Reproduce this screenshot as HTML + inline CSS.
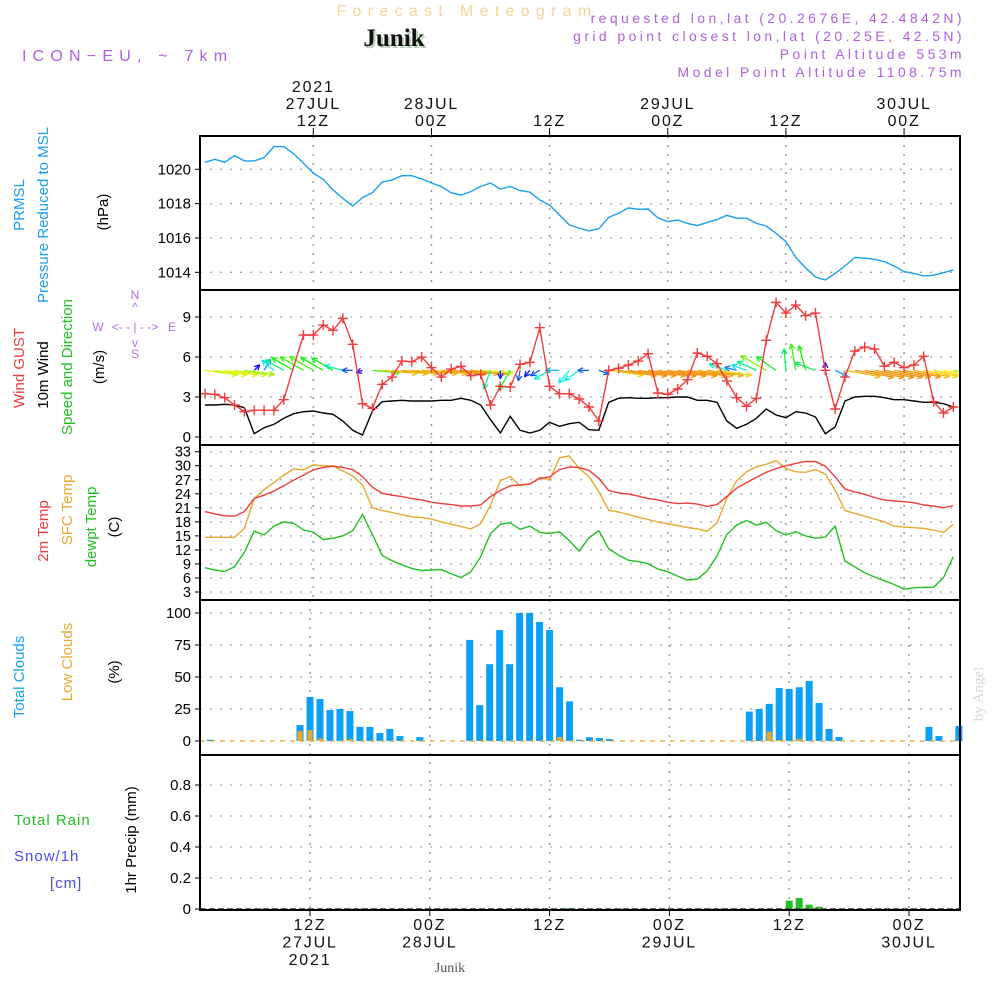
<!DOCTYPE html>
<html><head><meta charset="utf-8">
<style>
html,body{margin:0;padding:0;background:#fff;}
svg{display:block;font-family:"Liberation Sans",sans-serif;}
</style></head>
<body>
<svg id="chart" width="1000" height="1000" viewBox="0 0 1000 1000">
  <defs>
    <clipPath id="windClip"><rect x="200" y="290" width="760" height="155"/></clipPath>
  </defs>
  <!-- header -->
  <text x="467" y="16" text-anchor="middle" font-size="16" fill="#f3d49a" letter-spacing="6.3">Forecast Meteogram</text>
  <text x="396" y="48" text-anchor="middle" font-size="25" font-weight="bold" font-family="Liberation Serif, serif" fill="#b8d0b8">Junik</text>
  <text x="394" y="46" text-anchor="middle" font-size="25" font-weight="bold" font-family="Liberation Serif, serif" fill="#111">Junik</text>
  <text x="22" y="61" font-size="16" fill="#b060e0" letter-spacing="6.2">ICON−EU, ~ 7km</text>
  <g font-size="14" fill="#b060e0" text-anchor="end" letter-spacing="3.4">
    <text x="965" y="23">requested lon,lat (20.2676E, 42.4842N)</text>
    <text x="965" y="41">grid point closest lon,lat (20.25E, 42.5N)</text>
    <text x="965" y="59">Point Altitude 553m</text>
    <text x="965" y="77">Model Point Altitude 1108.75m</text>
  </g>

  <!-- left axis titles -->
  <g font-size="15">
    <text transform="translate(24,205) rotate(-90)" text-anchor="middle" fill="#1aa0f0">PRMSL</text>
    <text transform="translate(48,215) rotate(-90)" text-anchor="middle" fill="#1aa0f0">Pressure Reduced to MSL</text>
    <text transform="translate(108,212) rotate(-90)" text-anchor="middle" fill="#000">(hPa)</text>

    <text transform="translate(24,368) rotate(-90)" text-anchor="middle" fill="#f03c3c">Wind GUST</text>
    <text transform="translate(48,375) rotate(-90)" text-anchor="middle" fill="#000">10m Wind</text>
    <text transform="translate(72,367) rotate(-90)" text-anchor="middle" fill="#22c022">Speed and Direction</text>
    <text transform="translate(104,367) rotate(-90)" text-anchor="middle" fill="#000">(m/s)</text>

    <text transform="translate(48,531) rotate(-90)" text-anchor="middle" fill="#f03c3c">2m Temp</text>
    <text transform="translate(72,510) rotate(-90)" text-anchor="middle" fill="#e8a830">SFC Temp</text>
    <text transform="translate(96,527) rotate(-90)" text-anchor="middle" fill="#22c022">dewpt Temp</text>
    <text transform="translate(119,527) rotate(-90)" text-anchor="middle" fill="#000">(C)</text>

    <text transform="translate(24,677) rotate(-90)" text-anchor="middle" fill="#1aa0f0">Total Clouds</text>
    <text transform="translate(72,662) rotate(-90)" text-anchor="middle" fill="#e8a830">Low Clouds</text>
    <text transform="translate(119,672) rotate(-90)" text-anchor="middle" fill="#000">(%)</text>

    <text x="14" y="825" fill="#22c022" letter-spacing="1">Total  Rain</text>
    <text x="14" y="861" fill="#4a4af0" letter-spacing="1">Snow/1h</text>
    <text x="50" y="888" fill="#4a4af0" letter-spacing="1">[cm]</text>
    <text transform="translate(136,840) rotate(-90)" text-anchor="middle" fill="#000">1hr Precip (mm)</text>
  </g>
  <!-- compass -->
  <g font-size="12" fill="#b070e0" text-anchor="middle">
    <text x="135" y="299">N</text>
    <text x="135" y="311">^</text>
    <text x="135" y="331">&lt;- - | - -&gt;</text>
    <text x="135" y="347">v</text>
    <text x="135" y="358">S</text>
    <text x="98" y="331">W</text>
    <text x="172" y="331">E</text>
  </g>
  <!-- by Angel -->
  <text transform="translate(983,694) rotate(-90)" text-anchor="middle" font-size="15" font-family="Liberation Serif, serif" fill="#d8d8d8">by Angel</text>
  <text x="450" y="972" text-anchor="middle" font-size="14" font-family="Liberation Serif, serif" fill="#555">Junik</text>

  <g id="plot"></g>
</svg>

<script>
// ---- data (hourly, i=0 -> 01Z 27JUL, i=76 -> 05Z 30JUL) ----
const pressure = [1020.41,1020.58,1020.41,1020.8,1020.49,1020.49,1020.68,1021.32,1021.32,1020.9,1020.35,1019.77,1019.42,1018.8,1018.31,1017.86,1018.35,1018.64,1019.26,1019.38,1019.63,1019.63,1019.44,1019.2,1018.99,1018.64,1018.5,1018.7,1019.0,1019.2,1018.85,1019.0,1018.76,1018.67,1018.21,1017.92,1017.34,1016.76,1016.58,1016.41,1016.54,1017.2,1017.44,1017.75,1017.67,1017.69,1017.17,1016.95,1017.05,1016.85,1016.72,1016.91,1017.07,1017.32,1017.15,1017.15,1016.85,1016.7,1016.27,1015.79,1014.87,1014.27,1013.73,1013.55,1013.94,1014.37,1014.87,1014.82,1014.76,1014.62,1014.37,1014.04,1013.94,1013.79,1013.83,1013.98,1014.14];
const gust = [3.25,3.2,2.95,2.4,1.9,2.0,2.0,2.0,2.8,5.25,7.65,7.65,8.4,8.0,8.9,6.95,2.5,2.15,3.95,4.5,5.7,5.65,6.0,5.2,4.5,5.1,5.3,4.6,4.7,2.4,3.8,3.75,5.45,5.6,8.2,3.8,3.25,3.25,2.85,2.25,1.2,5.0,5.15,5.4,5.7,6.25,3.3,3.2,3.6,4.3,6.3,6.05,5.5,4.2,2.95,2.3,2.9,7.25,10.1,9.3,9.9,9.1,9.3,5.0,2.1,4.5,6.45,6.75,6.6,5.3,5.6,5.2,5.4,6.05,2.65,1.8,2.25];
const windSpeed = [2.4,2.4,2.45,2.4,2.2,0.25,0.7,0.95,1.4,1.75,1.9,1.95,1.8,1.7,1.2,0.5,0.15,1.95,2.65,2.7,2.75,2.7,2.7,2.7,2.75,2.75,2.9,2.75,2.4,1.3,0.3,1.55,0.5,0.3,0.5,1.1,0.8,1.0,1.1,0.55,0.5,2.6,2.9,2.95,2.9,2.9,2.95,2.95,3.0,3.0,2.75,2.75,2.6,1.2,0.65,0.95,1.4,2.1,1.65,1.45,1.9,1.8,1.5,0.25,0.75,2.7,3.0,3.05,3.05,2.95,2.8,2.8,2.7,2.6,2.6,2.5,2.25];
const windDir = [-8,-8,-8,-8,-8,45,60,140,150,150,150,150,150,150,165,180,200,-5,-5,-5,-5,-5,-5,-5,-5,-5,-5,-5,-5,-110,-90,-120,-100,-130,-150,-150,180,-130,-145,180,-20,-8,-8,-8,-8,-8,-8,-8,-8,-8,-8,-8,-8,160,165,160,155,150,145,95,100,105,160,90,-25,-10,-10,-10,-10,-10,-10,-10,-10,-10,-10,-10,-10];
const temp2m = [20.2,19.7,19.3,19.2,20.2,23.0,23.7,24.6,25.7,26.9,28.0,29.1,29.65,29.9,29.65,29.2,27.7,25.4,24.1,23.7,23.4,23.0,22.7,22.2,21.9,21.7,21.4,21.4,21.6,23.4,24.7,25.7,25.9,26.1,27.3,27.6,29.2,29.7,29.65,29.0,27.3,24.7,24.2,23.95,23.5,23.0,22.7,22.2,21.9,22.0,21.8,21.3,21.7,23.4,25.2,26.4,27.5,28.6,29.4,30.0,30.5,30.9,30.9,29.9,27.65,25.0,24.4,23.9,23.2,22.7,22.45,22.3,22.1,21.6,21.4,21.0,21.5];
const sfcTemp = [14.7,14.7,14.7,14.7,16.6,23.0,24.9,26.4,28.0,29.3,29.1,30.15,30.0,30.0,28.9,27.8,25.9,21.0,20.4,20.0,19.5,19.1,18.9,18.6,18.0,17.5,17.0,16.5,17.6,21.6,26.8,27.7,25.7,26.1,27.5,26.9,31.7,32.1,29.4,27.7,24.4,20.5,20.1,19.6,19.0,18.5,18.0,17.6,17.2,16.8,16.5,16.0,17.75,23.0,26.8,28.7,29.8,30.3,31.1,29.4,28.7,28.6,29.2,28.2,24.8,20.4,19.8,19.2,18.6,18.0,17.1,16.9,16.75,16.6,16.25,15.75,17.5];
const dewpt = [8.2,7.7,7.4,8.4,11.5,16.0,15.2,17.1,18.0,17.7,16.25,15.8,14.2,14.5,15.0,16.1,19.6,15.3,10.8,9.7,8.8,8.05,7.6,7.7,7.8,6.9,6.1,7.3,10.55,15.5,17.5,17.8,16.4,17.1,15.75,15.5,15.9,14.0,11.75,14.6,16.1,12.25,10.9,9.8,9.5,9.05,7.9,7.35,6.4,5.55,5.75,7.5,10.7,15.3,17.3,18.3,17.3,17.9,16.1,15.2,15.9,15.0,14.5,14.75,17.1,9.6,8.4,7.1,6.2,5.4,4.6,3.6,3.9,4.0,4.0,6.05,10.55];
const totalClouds = [0,1,0,0,0,0,0,0,0,0,12.5,34.4,32.8,24.2,25,23.4,11,11,6.25,9.4,3.9,0,3.1,0,0,0,0,79,28,60,86.7,60,100,100,93,86.7,42,31,1,3,2.3,1.5,0,0,0,0,0,0,0,0,0,0,0,0,0,23,25,29,41.4,40.6,42,46.9,29.7,9.4,3.1,0,0,0,0,0,0,0,0,11,3.9,0,11.7];
const lowClouds = [0,0,0,0,0,0,0,0,0,0,7.8,8.6,2,0,0,1.5,0,0,0,0,0,0,0,0,0,0,0,0,0,0,0,0,0,0,0,0,3.1,0,0,0,0,0,0,0,0,0,0,0,0,0,0,0,0,0,0,0,0,7.3,0.8,0,1.8,0,0,0,0,0,0,0,0,0,0,0,0,0,0,0,0];
const rainIdx = [37,59,60,61,62];
const rainVals = [0.005,0.054,0.071,0.028,0.015];
const pTicks = [1014,1016,1018,1020];
const wTicks = [0,3,6,9];
const tTicks = [3,6,9,12,15,18,21,24,27,30,33];
const cTicks = [0,25,50,75,100];
const rTicks = [0,0.2,0.4,0.6,0.8];
const gridIdx = [11,23,35,47,59,71];
const topLabels = [["2021","27JUL","12Z"],["","28JUL","00Z"],["","","12Z"],["","29JUL","00Z"],["","","12Z"],["","30JUL","00Z"]];
const botLabels = [["12Z","27JUL","2021"],["00Z","28JUL",""],["12Z","",""],["00Z","29JUL",""],["12Z","",""],["00Z","30JUL",""]];

// ---- axes ----
const X0=200, X1=960;
const xA = i => 205 + i*9.846;          // top three panels
const xB = i => 310 + (i-11)*9.983;     // bottom two panels
const yP = v => 169.3 + (1020-v)*17.17;
const yW = v => 437 - v*13.33;
const yT = v => 451.7 + (33-v)*4.677;
const yC = v => 741 - v*1.28;
const yR = v => 909 - v*155;
const panels = [[136,290],[290,445],[445,600],[600,755],[755,910]];

const NS="http://www.w3.org/2000/svg";
const plot=document.getElementById('plot');
function mk(tag, attrs, parent){
  const el=document.createElementNS(NS,tag);
  for(const k in attrs) el.setAttribute(k,attrs[k]);
  (parent||plot).appendChild(el);
  return el;
}
function hgrid(ticks, yf, lbls, name, fs){
  ticks.forEach((t,k)=>{
    const y=yf(t);
    const g=mk('line',{x1:X0,x2:X1,y1:y,y2:y,stroke:'#aaa','stroke-width':1.3,'stroke-dasharray':'2,8'});
    
    
    const tk=mk('line',{x1:X0-5,x2:X0,y1:y,y2:y,stroke:'#000','stroke-width':1});
    
    
    const tx=mk('text',{x:X0-9,y:y+5,'text-anchor':'end','font-size':fs||15,fill:'#000'});
    tx.textContent=lbls?lbls[k]:String(t);
    
    
  });
}
function vgrid(xf, top, bot){
  gridIdx.forEach(i=>{
    const x=xf(i);
    const g=mk('line',{x1:x,x2:x,y1:top,y2:bot,stroke:'#999','stroke-width':1.5,'stroke-dasharray':'2,7'});
    
    
  });
}
function polyline(vals, yf, color, name, xf){
  const pts=vals.map((v,i)=>(xf||xA)(i).toFixed(1)+','+yf(v).toFixed(1)).join(' ');
  const p=mk('polyline',{points:pts,fill:'none',stroke:color,'stroke-width':1.4});
  
  
  return p;
}

// grids
hgrid(pTicks,yP,null,'pressure');
hgrid(wTicks,yW,null,'wind');
hgrid(tTicks,yT,null,'temp',14.5);
hgrid(cTicks,yC,null,'cloud');
hgrid(rTicks,yR,['0','0.2','0.4','0.6','0.8'],'precip');
vgrid(xA,136,600);
vgrid(xB,600,910);

// pressure
polyline(pressure,yP,'#1aa0f0','pressure-line');

// wind arrows
const arrowLayer=mk('g',{'clip-path':'url(#windClip)'});


windSpeed.forEach((s,i)=>{
  const hue=Math.max(35,260-s*80);
  const col='hsl('+hue+',90%,50%)';
  const a=windDir[i]*Math.PI/180;
  const L=5+s*11.5;
  const x0=xA(i), y0=yW(5);
  const x1=x0+L*Math.cos(a), y1=y0-L*Math.sin(a);
  const g=mk('g',{stroke:col,'stroke-width':1.3,fill:'none'},arrowLayer);
  
  
  mk('line',{x1:x0,y1:y0,x2:x1,y2:y1},g);
  [0.45,-0.45].forEach(d=>{
    const b=a+Math.PI+d;
    mk('line',{x1:x1,y1:y1,x2:x1+6*Math.cos(b),y2:y1-6*Math.sin(b)},g);
  });
});
// wind speed & gust
polyline(windSpeed,yW,'#000','wind-speed-line');
polyline(gust,yW,'#f03c3c','wind-gust-line');
gust.forEach((v,i)=>{
  if(i===9) return;
  const x=xA(i), y=yW(v);
  const m=mk('path',{d:'M'+(x-5)+' '+y+'H'+(x+5)+'M'+x+' '+(y-5)+'V'+(y+5),stroke:'#f03c3c','stroke-width':1.4});
  
  
});

// temperatures
polyline(sfcTemp,yT,'#e8a830','sfc-temp-line');
polyline(temp2m,yT,'#f03c3c','temp-2m-line');
polyline(dewpt,yT,'#22c022','dewpt-line');

// clouds
totalClouds.forEach((v,i)=>{
  if(v<=0) return;
  const x=xB(i);
  const r=mk('rect',{x:x-3.5,y:yC(v),width:7,height:yC(0)-yC(v),fill:'#0aa0f8'});
  
  
});
const bl=mk('line',{x1:X0,x2:X1,y1:yC(0),y2:yC(0),stroke:'#e8a830','stroke-width':1.2,'stroke-dasharray':'5,5'});


lowClouds.forEach((v,i)=>{
  if(v<=0) return;
  const x=xB(i);
  const r=mk('rect',{x:x-2.5,y:yC(v),width:5,height:yC(0)-yC(v),fill:'#e8a830'});
  
  
});

// precip
rainIdx.forEach((idx,k)=>{
  const v=rainVals[k], x=xB(idx);
  const r=mk('rect',{x:x-3.5,y:yR(v),width:7,height:Math.max(1,yR(0)-yR(v)),fill:'#22c022'});
  
  
});
const pb=mk('line',{x1:X0,x2:X1,y1:909,y2:909,stroke:'#333','stroke-width':1.5,'stroke-dasharray':'6,3'});



// panel frames
panels.forEach((p,k)=>{
  const r=mk('rect',{x:X0,y:p[0],width:X1-X0,height:p[1]-p[0],fill:'none',stroke:'#000','stroke-width':2});
  
  
});

// time axis labels
gridIdx.forEach((i,k)=>{
  const x=xA(i);
  const t=mk('line',{x1:x,x2:x,y1:128,y2:136,stroke:'#000','stroke-width':1});
  
  
  topLabels[k].forEach((s,r)=>{
    if(!s) return;
    const tx=mk('text',{x:x,y:92+r*17,'text-anchor':'middle','font-size':16,fill:'#111','letter-spacing':'1.8'});
    tx.textContent=s;
    
    
  });
  const xb=xB(i);
  const tb=mk('line',{x1:xb,x2:xb,y1:910,y2:916,stroke:'#000','stroke-width':1});
  
  
  botLabels[k].forEach((s,r)=>{
    if(!s) return;
    const tx=mk('text',{x:xb,y:930+r*17.5,'text-anchor':'middle','font-size':16,fill:'#111','letter-spacing':'1.8'});
    tx.textContent=s;
    
    
  });
});
</script>
</body></html>
